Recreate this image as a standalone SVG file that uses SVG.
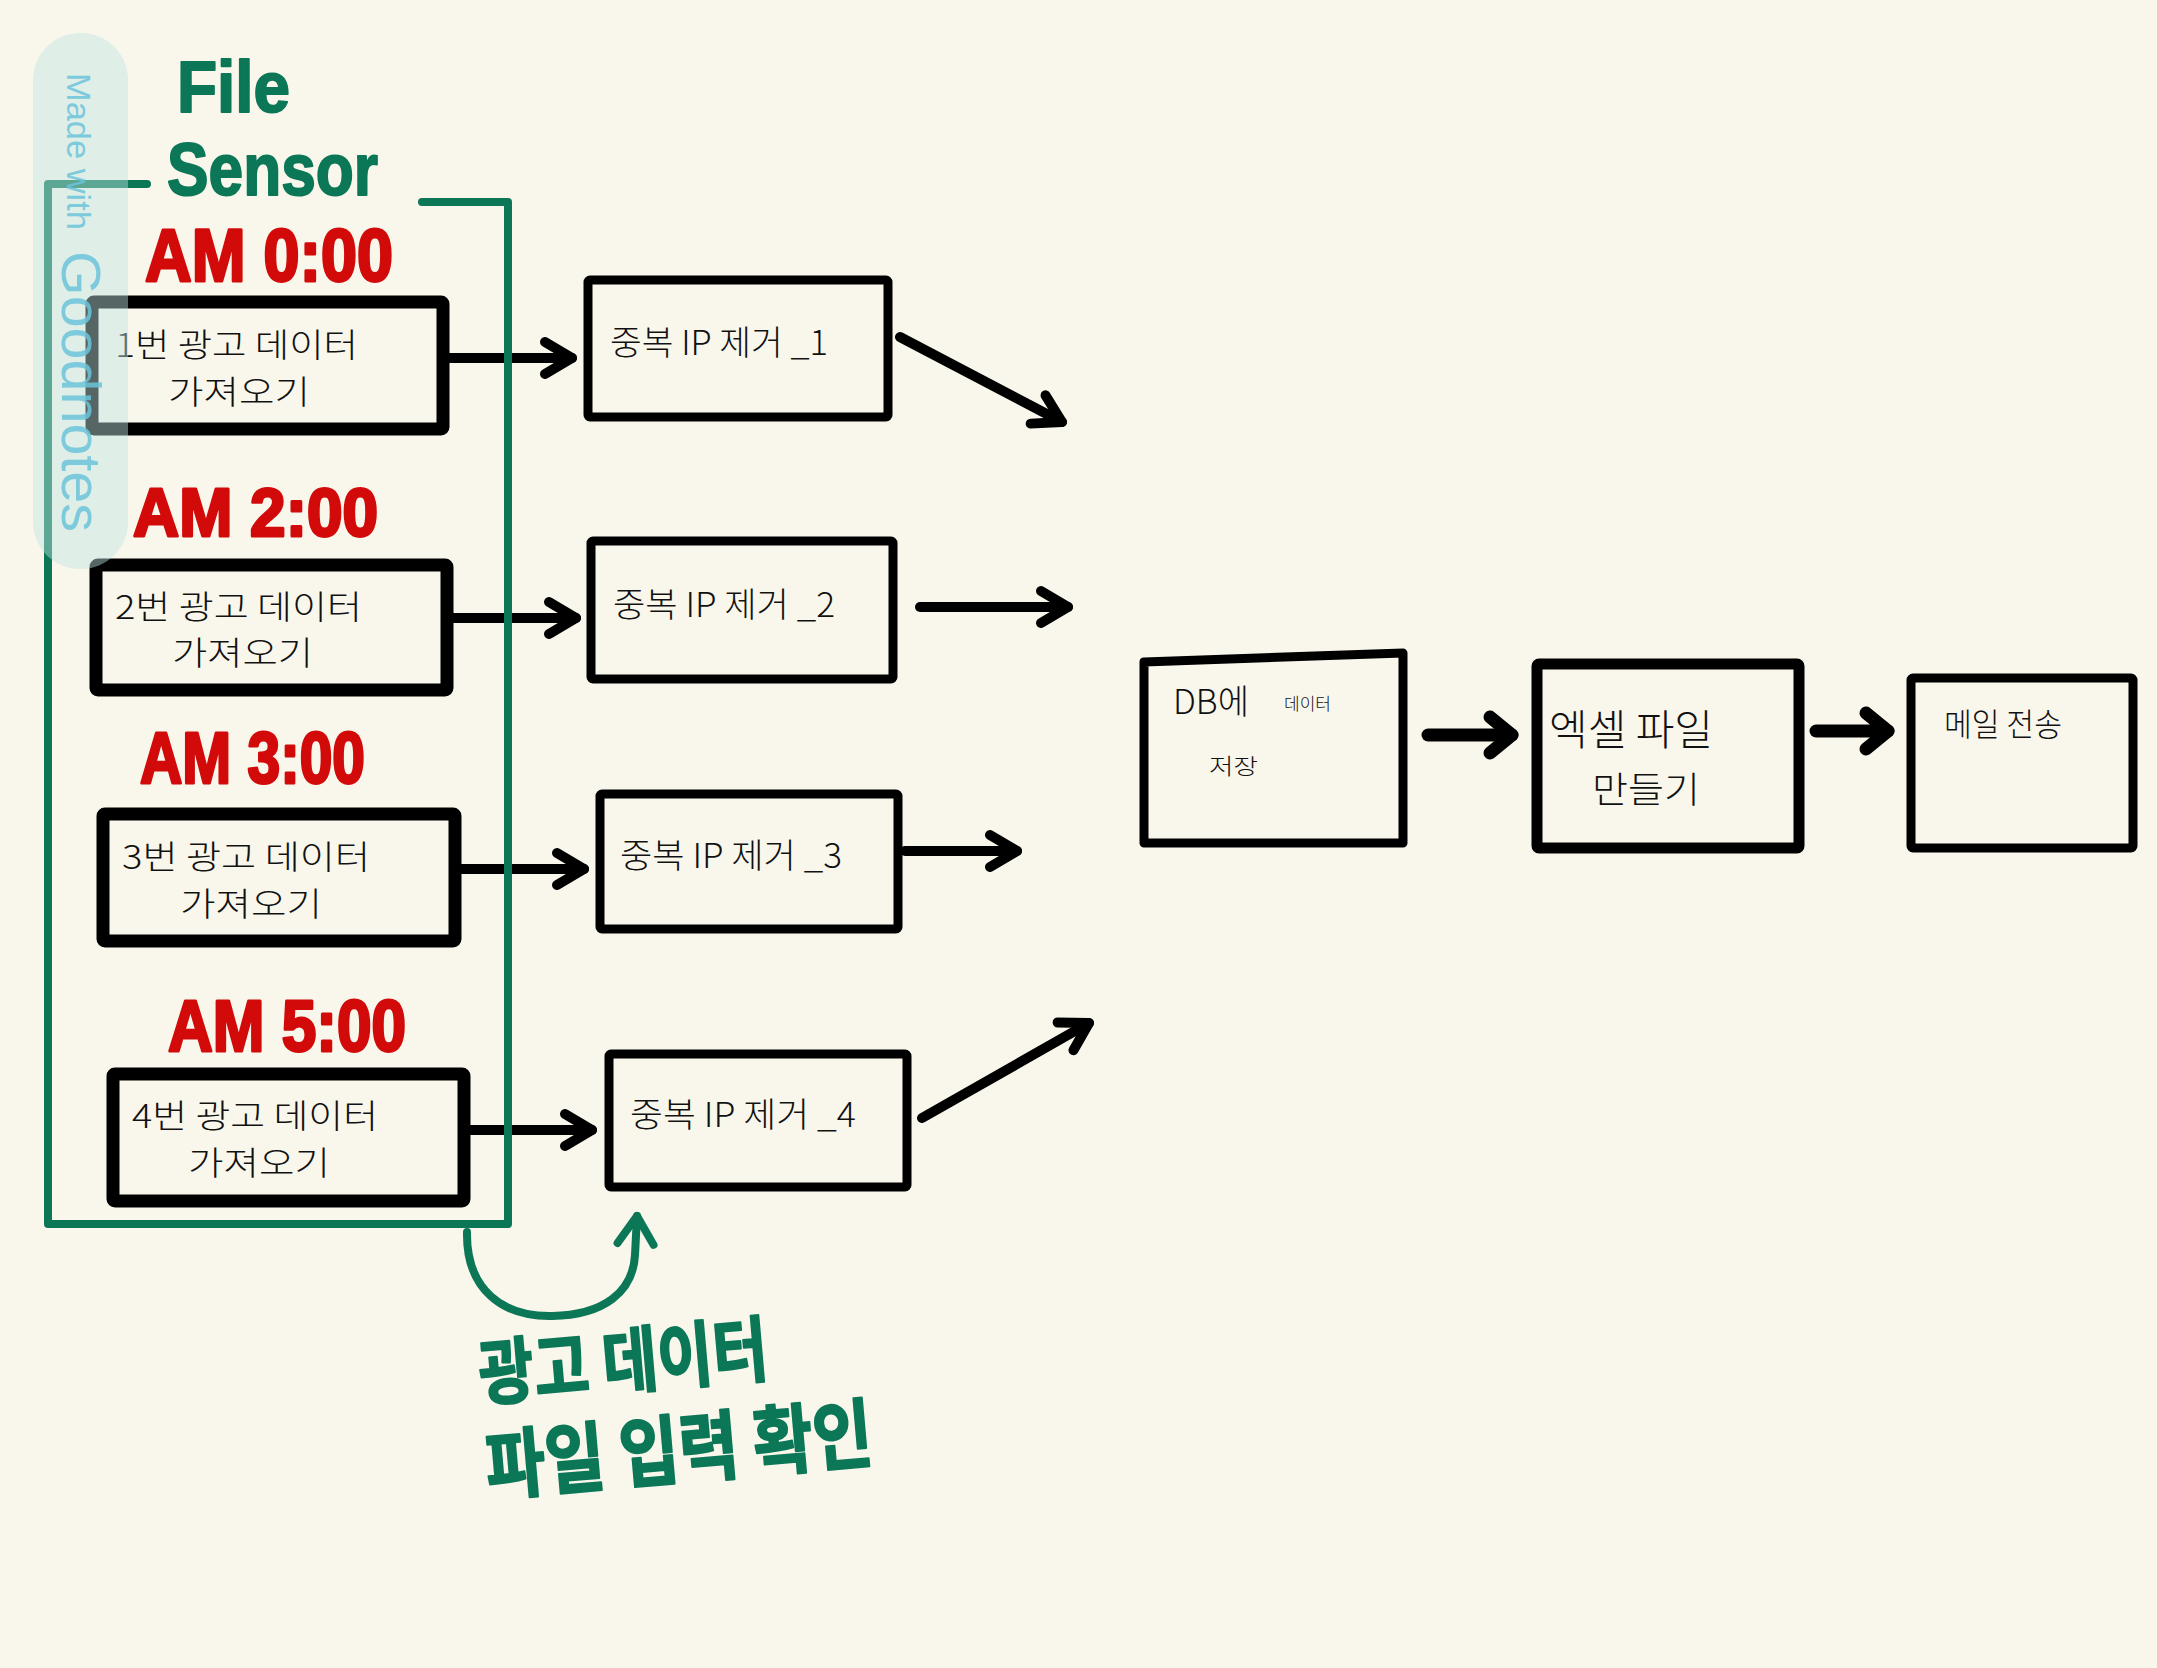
<svg xmlns="http://www.w3.org/2000/svg" width="2157" height="1668" viewBox="0 0 2157 1668">
<defs>
<style>
.bx{fill:none;stroke:#000;stroke-linejoin:round}
.ln{fill:none;stroke:#000;stroke-width:10;stroke-linecap:round;stroke-linejoin:round}
.lnb{fill:none;stroke:#000;stroke-width:13;stroke-linecap:round;stroke-linejoin:round}
.gl{fill:none;stroke:#0b7757;stroke-width:8;stroke-linecap:round;stroke-linejoin:round}
.kr{font-family:"Noto Sans CJK KR","Noto Sans",sans-serif;font-weight:300;fill:#111}
.tm{font-family:"Liberation Sans","Noto Sans",sans-serif;font-weight:bold;fill:#d20a0a;stroke:#d20a0a;stroke-width:3;stroke-linejoin:round}
.gt{font-family:"Noto Sans CJK KR","Liberation Sans",sans-serif;font-weight:bold;fill:#0b7757;stroke:#0b7757;stroke-width:2;stroke-linejoin:round}
.ge{font-family:"Liberation Sans",Arial,sans-serif;font-weight:bold;fill:#0b7757;stroke:#0b7757;stroke-width:2;stroke-linejoin:round}
.wm{font-family:"Liberation Sans","Roboto",sans-serif;fill:#6cc4dc;opacity:0.85}
</style>
<marker id="ah" viewBox="0 0 40 40" refX="32" refY="20" markerWidth="40" markerHeight="40" markerUnits="userSpaceOnUse" orient="auto" style="overflow:visible">
<path d="M5,4 L32,20 L5,36" fill="none" stroke="#000" stroke-width="10" stroke-linecap="round" stroke-linejoin="round"/>
</marker>
<marker id="ahb" viewBox="0 0 40 40" refX="32" refY="20" markerWidth="40" markerHeight="40" markerUnits="userSpaceOnUse" orient="auto" style="overflow:visible">
<path d="M10,2 L32,20 L10,38" fill="none" stroke="#000" stroke-width="13" stroke-linecap="round" stroke-linejoin="round"/>
</marker>
<marker id="ahg" viewBox="0 0 40 40" refX="32" refY="20" markerWidth="40" markerHeight="40" markerUnits="userSpaceOnUse" orient="auto" style="overflow:visible">
<path d="M4,2 L32,20 L4,38" fill="none" stroke="#0b7757" stroke-width="8" stroke-linecap="round" stroke-linejoin="round"/>
</marker>
</defs>
<rect width="2157" height="1668" fill="#f9f7ec"/>

<g id="time-labels">
<text class="tm" x="145" y="281" font-size="74" textLength="248" lengthAdjust="spacingAndGlyphs">AM 0:00</text>
<text class="tm" x="133" y="536" font-size="68" textLength="245" lengthAdjust="spacingAndGlyphs">AM 2:00</text>
<text class="tm" x="140" y="783" font-size="72" textLength="225" lengthAdjust="spacingAndGlyphs">AM 3:00</text>
<text class="tm" x="168" y="1051" font-size="72" textLength="238" lengthAdjust="spacingAndGlyphs">AM 5:00</text>
</g>

<g id="fetch1">
<rect class="bx" x="92" y="302" width="351" height="127" stroke-width="13" rx="2"/>
<text class="kr" x="115" y="357" font-size="33" textLength="243" lengthAdjust="spacingAndGlyphs">1번 광고 데이터</text>
<text class="kr" x="168" y="404" font-size="33" textLength="142" lengthAdjust="spacingAndGlyphs">가져오기</text>
</g>
<g id="fetch2">
<rect class="bx" x="96" y="565" width="351" height="125" stroke-width="13" rx="2"/>
<text class="kr" x="115" y="619" font-size="33" textLength="247" lengthAdjust="spacingAndGlyphs">2번 광고 데이터</text>
<text class="kr" x="172" y="665" font-size="33" textLength="141" lengthAdjust="spacingAndGlyphs">가져오기</text>
</g>
<g id="fetch3">
<rect class="bx" x="103" y="814" width="352" height="127" stroke-width="13" rx="2"/>
<text class="kr" x="122" y="869" font-size="33" textLength="248" lengthAdjust="spacingAndGlyphs">3번 광고 데이터</text>
<text class="kr" x="180" y="916" font-size="33" textLength="142" lengthAdjust="spacingAndGlyphs">가져오기</text>
</g>
<g id="fetch4">
<rect class="bx" x="113" y="1074" width="351" height="127" stroke-width="13" rx="2"/>
<text class="kr" x="132" y="1128" font-size="33" textLength="246" lengthAdjust="spacingAndGlyphs">4번 광고 데이터</text>
<text class="kr" x="188" y="1175" font-size="33" textLength="142" lengthAdjust="spacingAndGlyphs">가져오기</text>
</g>

<g id="dedup1">
<rect class="bx" x="588" y="280" width="300" height="137" stroke-width="9" rx="2"/>
<text class="kr" x="610" y="355" font-size="34" textLength="218" lengthAdjust="spacingAndGlyphs">중복 IP 제거 _1</text>
</g>
<g id="dedup2">
<rect class="bx" x="591" y="541" width="302" height="138" stroke-width="9" rx="2"/>
<text class="kr" x="613" y="617" font-size="34" textLength="222" lengthAdjust="spacingAndGlyphs">중복 IP 제거 _2</text>
</g>
<g id="dedup3">
<rect class="bx" x="600" y="794" width="298" height="135" stroke-width="9" rx="2"/>
<text class="kr" x="620" y="868" font-size="34" textLength="222" lengthAdjust="spacingAndGlyphs">중복 IP 제거 _3</text>
</g>
<g id="dedup4">
<rect class="bx" x="609" y="1054" width="298" height="133" stroke-width="9" rx="2"/>
<text class="kr" x="630" y="1127" font-size="34" textLength="226" lengthAdjust="spacingAndGlyphs">중복 IP 제거 _4</text>
</g>

<g id="db-save">
<path class="bx" d="M1144,662 L1403,653 L1403,843 L1144,843 Z" stroke-width="9"/>
<text class="kr" y="714"><tspan x="1173" font-size="34">DB에</tspan> <tspan x="1284" y="710" font-size="17">데이터</tspan></text>
<text class="kr" x="1209" y="774" font-size="22" textLength="49" lengthAdjust="spacingAndGlyphs">저장</text>
</g>
<g id="excel">
<rect class="bx" x="1537" y="664" width="262" height="184" stroke-width="11" rx="2"/>
<text class="kr" x="1549" y="745" font-size="42" textLength="164" lengthAdjust="spacingAndGlyphs">엑셀 파일</text>
<text class="kr" x="1592" y="803" font-size="36" textLength="108" lengthAdjust="spacingAndGlyphs">만들기</text>
</g>
<g id="mail">
<rect class="bx" x="1911" y="678" width="222" height="170" stroke-width="9" rx="2"/>
<text class="kr" x="1944" y="736" font-size="32" textLength="118" lengthAdjust="spacingAndGlyphs">메일 전송</text>
</g>

<g id="connectors">
<path class="ln" d="M450,358 L572,358" marker-end="url(#ah)"/>
<path class="ln" d="M454,618 L576,618" marker-end="url(#ah)"/>
<path class="ln" d="M462,869 L584,869" marker-end="url(#ah)"/>
<path class="ln" d="M471,1130 L592,1130" marker-end="url(#ah)"/>
<path class="ln" d="M900,337 L1062,422" marker-end="url(#ah)"/>
<path class="ln" d="M920,607 L1068,607" marker-end="url(#ah)"/>
<path class="ln" d="M905,851 L1017,851" marker-end="url(#ah)"/>
<path class="ln" d="M922,1118 L1089,1023" marker-end="url(#ah)"/>
<path class="lnb" d="M1428,735 L1512,735" marker-end="url(#ahb)"/>
<path class="lnb" d="M1816,731 L1888,731" marker-end="url(#ahb)"/>
<path class="gl" d="M467,1232 C466,1290 503,1317 552,1316 C604,1315 633,1292 635,1255 L637,1216" marker-end="url(#ahg)"/>
</g>

<g id="file-sensor">
<path class="gl" d="M147,184 L48,184 L48,1224 L508,1224 L508,202 L422,202"/>
<text class="ge" x="177" y="112" font-size="72" textLength="113" lengthAdjust="spacingAndGlyphs">File</text>
<text class="ge" x="167" y="195" font-size="74" textLength="211" lengthAdjust="spacingAndGlyphs">Sensor</text>
</g>

<g id="input-check-label">
<text class="gt" transform="translate(481,1400) rotate(-5)" font-size="72" textLength="290" lengthAdjust="spacingAndGlyphs">광고 데이터</text>
<text class="gt" transform="translate(488,1494) rotate(-5)" font-size="76" textLength="388" lengthAdjust="spacingAndGlyphs">파일 입력 확인</text>
</g>

<g id="watermark">
<rect x="33" y="33" width="95" height="536" rx="47" fill="#bfe3e0" opacity="0.45"/>
<text class="wm" transform="translate(67,73) rotate(90)" font-size="34" textLength="157" lengthAdjust="spacingAndGlyphs">Made with</text>
<text class="wm" transform="translate(62,251) rotate(90)" font-size="56" textLength="281" lengthAdjust="spacingAndGlyphs">Goodnotes</text>
</g>
</svg>
